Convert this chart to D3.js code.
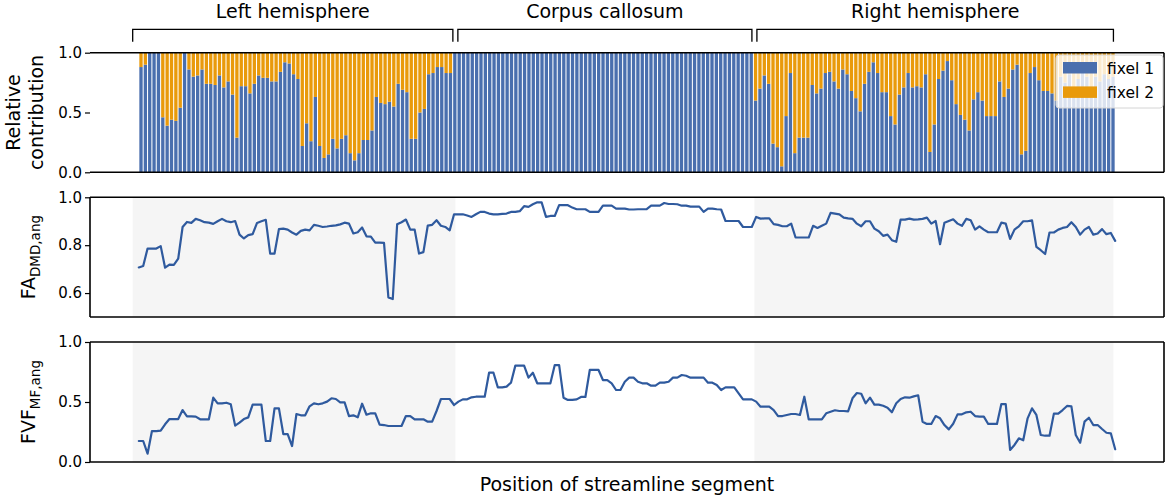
<!DOCTYPE html>
<html>
<head>
<meta charset="utf-8">
<script src="https://cdn.jsdelivr.net/npm/d3@7"></script>
<style>
body{margin:0;background:#fff}
svg{display:block;font-family:"DejaVu Sans",sans-serif}
</style>
</head>
<body>
<svg id="chart" width="1170" height="498"></svg>
<script>
// regions along the streamline (in segment index units)
const regionNames = ["Left hemisphere", "Corpus callosum", "Right hemisphere"];
const regionStart = [-1.4, 72.3, 140.6];
const regionEnd = [72.3, 140.6, 222.6];
const regionShaded = [true, false, true];

// relative contribution of each fixel, one value per segment
const fixel1 = [
  .88,.90,1,1,1,.46,.39,.44,.43,.54, 1,.86,.80,.81,.86,.74,.74,.73,.81,.71,
  .76,.65,.29,.72,.72,.66,.74,.81,.79,.79, .76,.76,.84,.92,.91,.82,.78,.22,.41,.26,
  .63,.22,.12,.15,.28,.20,.28,.31,.16,.10, .16,.27,.27,.35,.63,.58,.57,.59,.55,.74,
  .69,.67,.28,.28,.50,.53,.82,.83,.88,.88, .83,.83,
  1,1,1,1,1,1,1,1,1,1,1,1,1,1,1,1,1,1,1,1,1,1,1,
  1,1,1,1,1,1,1,1,1,1,1,1,1,1,1,1,1,1,1,1,1,1,1,
  1,1,1,1,1,1,1,1,1,1,1,1,1,1,1,1,1,1,1,1,1,1,1,
  .60,.70,.81,.74,.24,.21,.05,.47,.83,.16, .29,.29,.29,.73,.66,.70,.83,.84,.76,.70,
  .86,.82,.68,.62,.51,.74,.84,.92,.83,.67, .67,.47,.40,.65,.71,.83,.71,.72,.71,.82,
  .17,.40,.78,.85,.93,.77,.57,.48,.44,.35, .61,.67,.60,.47,.47,.47,.76,.63,.70,.86,
  .90,.15,.18,.83,.88,.77,.68,.68,.66,.60, .80,.75,.82,.70,.78,.85,.80,.72,.80,.76,
  .82,.78,.80
];
const fixel2 = [
  .12,.10,0,0,0,.54,.61,.56,.57,.46, 0,.14,.20,.19,.14,.26,.26,.27,.19,.29,
  .24,.35,.71,.28,.28,.34,.26,.19,.21,.21, .24,.24,.16,.08,.09,.18,.22,.78,.59,.74,
  .37,.78,.88,.85,.72,.80,.72,.69,.84,.90, .84,.73,.73,.65,.37,.42,.43,.41,.45,.26,
  .31,.33,.72,.72,.50,.47,.18,.17,.12,.12, .17,.17,
  0,0,0,0,0,0,0,0,0,0,0,0,0,0,0,0,0,0,0,0,0,0,0,
  0,0,0,0,0,0,0,0,0,0,0,0,0,0,0,0,0,0,0,0,0,0,0,
  0,0,0,0,0,0,0,0,0,0,0,0,0,0,0,0,0,0,0,0,0,0,0,
  .40,.30,.19,.26,.76,.79,.95,.53,.17,.84, .71,.71,.71,.27,.34,.30,.17,.16,.24,.30,
  .14,.18,.32,.38,.49,.26,.16,.08,.17,.33, .33,.53,.60,.35,.29,.17,.29,.28,.29,.18,
  .83,.60,.22,.15,.07,.23,.43,.52,.56,.65, .39,.33,.40,.53,.53,.53,.24,.37,.30,.14,
  .10,.85,.82,.17,.12,.23,.32,.32,.34,.40, .20,.25,.18,.30,.22,.15,.20,.28,.20,.24,
  .18,.22,.20
];

// FA_DMD,ang per segment
const faDmd = [
  .707,.713,.786,.786,.786,.796,.706,.719,.718,.744, .876,.897,.893,.910,.904,.896,.894,.889,.900,.910,
  .900,.896,.901,.844,.828,.842,.846,.893,.900,.906, .765,.765,.867,.869,.865,.853,.844,.860,.865,.862,
  .885,.881,.876,.878,.881,.883,.887,.894,.890,.849, .854,.874,.837,.836,.811,.811,.810,.582,.575,.887,
  .896,.907,.865,.865,.765,.771,.882,.885,.904,.881, .876,.862,.929,.929,.929,.924,.918,.929,.939,.939,
  .932,.929,.929,.931,.932,.939,.939,.942,.963,.960, .971,.979,.979,.918,.922,.922,.967,.967,.967,.957,
  .950,.950,.950,.939,.939,.939,.965,.965,.965,.953, .953,.953,.949,.949,.950,.950,.951,.965,.965,.965,
  .976,.972,.972,.971,.965,.965,.961,.961,.961,.939, .953,.953,.950,.949,.901,.901,.901,.901,.876,.876,
  .876,.918,.911,.912,.912,.888,.885,.879,.879,.890, .832,.832,.832,.832,.881,.872,.881,.890,.935,.932,
  .929,.915,.912,.910,.890,.879,.900,.900,.869,.858, .839,.844,.821,.814,.907,.907,.911,.907,.908,.910,
  .915,.890,.901,.804,.894,.901,.908,.890,.881,.910, .904,.865,.879,.865,.854,.854,.854,.894,.890,.826,
  .865,.879,.900,.900,.904,.793,.779,.763,.853,.853, .865,.872,.876,.896,.876,.844,.865,.876,.844,.849,
  .867,.846,.851,.818
];

// FVF_MF,ang per segment
const fvfMf = [
  .175,.175,.069,.258,.258,.261,.314,.358,.358,.358, .433,.381,.381,.378,.356,.356,.356,.536,.489,.489,
  .494,.481,.303,.328,.358,.372,.478,.478,.478,.175, .175,.447,.447,.233,.233,.133,.400,.389,.389,.464,
  .489,.481,.489,.503,.531,.525,.497,.497,.383,.389, .372,.486,.394,.406,.406,.311,.308,.300,.300,.300,
  .300,.383,.383,.356,.356,.356,.336,.336,.425,.525, .525,.525,.475,.503,.522,.522,.539,.544,.544,.544,
  .744,.744,.622,.622,.628,.661,.803,.803,.803,.703, .744,.656,.656,.656,.656,.808,.808,.536,.517,.517,
  .522,.542,.542,.767,.767,.767,.683,.683,.656,.600, .600,.669,.703,.703,.669,.656,.656,.636,.636,.661,
  .661,.669,.703,.703,.725,.719,.703,.703,.703,.703, .661,.661,.642,.600,.622,.622,.622,.572,.522,.522,
  .522,.503,.461,.461,.461,.433,.383,.383,.392,.400, .400,.392,.544,.356,.356,.356,.356,.406,.419,.431,
  .425,.425,.422,.531,.575,.569,.489,.536,.478,.478, .469,.453,.414,.489,.525,.539,.536,.547,.556,.336,
  .317,.317,.383,.364,.308,.272,.319,.397,.397,.414, .419,.383,.378,.378,.317,.317,.317,.483,.483,.100,
  .142,.197,.181,.364,.447,.392,.225,.219,.219,.403, .403,.433,.467,.464,.225,.161,.336,.369,.308,.308,
  .275,.244,.239,.106
];

const ticksTop = [0.0, 0.5, 1.0];
const ticksFA = [0.6, 0.8, 1.0];
const ticksFVF = [0.0, 0.5, 1.0];
const legendLabels = ["fixel 1", "fixel 2"];

// ---- layout
const blue = "#4a6fae", orange = "#e99a0b", lineBlue = "#2f5a9e";
const axL = 90, axR = 1164, axW = axR - axL;
const n = fixel1.length;
const panelTop = {y0: 52.7, y1: 172.3};
const panelFA = {y0: 197.3, y1: 317};
const panelFVF = {y0: 342, y1: 462};

const svg = d3.select("#chart");

// matplotlib-like 5% margins on x
const x = d3.scaleLinear()
  .domain([-0.05 * (n - 1), (n - 1) * 1.05])
  .range([axL, axR]);
const xb = d3.scaleBand()
  .domain(d3.range(n))
  .range([axL + axW / 22, axR - axW / 22])
  .paddingInner(0.24)
  .paddingOuter(0.12);

function yAxis(g, y, ticks) {
  g.call(d3.axisLeft(y).tickValues(ticks).tickFormat(d3.format(".1f")).tickSize(5).tickPadding(3))
   .call(s => s.select(".domain").remove());
  g.selectAll(".tick line").attr("stroke", "#000").attr("stroke-width", 1.2);
  g.selectAll(".tick text").attr("font-size", 15).attr("fill", "#000")
   .attr("font-family", "DejaVu Sans, sans-serif");
}

function frame(p, left) {
  const f = svg.append("g").attr("fill", "none").attr("stroke", "#000").attr("stroke-width", 1.6);
  f.append("line").attr("x1", axL).attr("x2", axR).attr("y1", p.y0).attr("y2", p.y0);
  f.append("line").attr("x1", axL).attr("x2", axR).attr("y1", p.y1).attr("y2", p.y1);
  f.append("line").attr("x1", axR).attr("x2", axR).attr("y1", p.y0).attr("y2", p.y1);
  if (left) f.append("line").attr("x1", axL).attr("x2", axL).attr("y1", p.y0).attr("y2", p.y1);
}

// ---- top panel: stacked bars
const yTop = d3.scaleLinear().domain([0, 1]).range([panelTop.y1, panelTop.y0]);
const rows = fixel1.map((v, i) => ({i: i, f1: v, f2: fixel2[i]}));
const stacked = d3.stack().keys(["f1", "f2"])(rows);
const barColors = [blue, orange];

svg.append("g").selectAll("g")
  .data(stacked)
  .join("g")
  .attr("fill", (d, k) => barColors[k])
  .selectAll("rect")
  .data(d => d)
  .join("rect")
  .attr("x", d => xb(d.data.i))
  .attr("width", xb.bandwidth())
  .attr("y", d => yTop(d[1]))
  .attr("height", d => yTop(d[0]) - yTop(d[1]));

frame(panelTop, false);
svg.append("g").attr("transform", `translate(${axL},0)`).call(g => yAxis(g, yTop, ticksTop));

// legend
const lg = svg.append("g").attr("transform", `translate(${axR - 108},${panelTop.y0 + 2.3})`);
lg.append("rect").attr("width", 107).attr("height", 53).attr("rx", 3)
  .attr("fill", "#fff").attr("fill-opacity", 0.8).attr("stroke", "#d4d4d4").attr("stroke-width", 1);
legendLabels.forEach((t, k) => {
  lg.append("rect").attr("x", 7).attr("y", 7 + k * 24.4).attr("width", 34).attr("height", 11.5)
    .attr("fill", barColors[k]);
  lg.append("text").attr("x", 51).attr("y", 18.5 + k * 24.4).attr("font-size", 15.5).text(t);
});

// ---- region brackets on top
const bracketY = 29.3, bracketDrop = 12.4;
regionNames.forEach((name, k) => {
  const a = x(regionStart[k]) + (k > 0 ? 2.5 : 0);
  const b = x(regionEnd[k]) - (k < regionNames.length - 1 ? 2.5 : 0);
  svg.append("path")
    .attr("d", `M${a},${bracketY + bracketDrop}V${bracketY}H${b}V${bracketY + bracketDrop}`)
    .attr("fill", "none").attr("stroke", "#000").attr("stroke-width", 1.3);
  svg.append("text").attr("x", (a + b) / 2).attr("y", 18).attr("text-anchor", "middle")
    .attr("font-size", 19).text(name);
});

// ---- line panels
function linePanel(p, domain, values, ticks) {
  const y = d3.scaleLinear().domain(domain).range([p.y1, p.y0]);
  regionNames.forEach((name, k) => {
    if (!regionShaded[k]) return;
    svg.append("rect")
      .attr("x", x(regionStart[k])).attr("width", x(regionEnd[k]) - x(regionStart[k]))
      .attr("y", p.y0).attr("height", p.y1 - p.y0)
      .attr("fill", "#f5f5f5");
  });
  svg.append("path")
    .datum(values)
    .attr("fill", "none").attr("stroke", lineBlue).attr("stroke-width", 2.2)
    .attr("stroke-linejoin", "round").attr("stroke-linecap", "round")
    .attr("d", d3.line().x((d, i) => x(i)).y(d => y(d)));
  frame(p, true);
  svg.append("g").attr("transform", `translate(${axL},0)`).call(g => yAxis(g, y, ticks));
}
linePanel(panelFA, [0.5, 1.0], faDmd, ticksFA);
linePanel(panelFVF, [0, 1], fvfMf, ticksFVF);

// ---- axis labels
const lab = svg.append("g").attr("font-size", 19).attr("text-anchor", "middle");
const midTop = (panelTop.y0 + panelTop.y1) / 2;
lab.append("text").attr("transform", `translate(20,${midTop}) rotate(-90)`).text("Relative");
lab.append("text").attr("transform", `translate(43,${midTop}) rotate(-90)`).text("contribution");

function subLabel(cx, cy, main, sub) {
  const t = lab.append("text").attr("transform", `translate(${cx},${cy}) rotate(-90)`);
  t.append("tspan").text(main);
  t.append("tspan").attr("dy", 5).attr("font-size", 13.5).text(sub);
}
subLabel(35, (panelFA.y0 + panelFA.y1) / 2, "FA", "DMD,ang");
subLabel(35, (panelFVF.y0 + panelFVF.y1) / 2, "FVF", "MF,ang");

lab.append("text").attr("x", (axL + axR) / 2).attr("y", 491).text("Position of streamline segment");
</script>
</body>
</html>
